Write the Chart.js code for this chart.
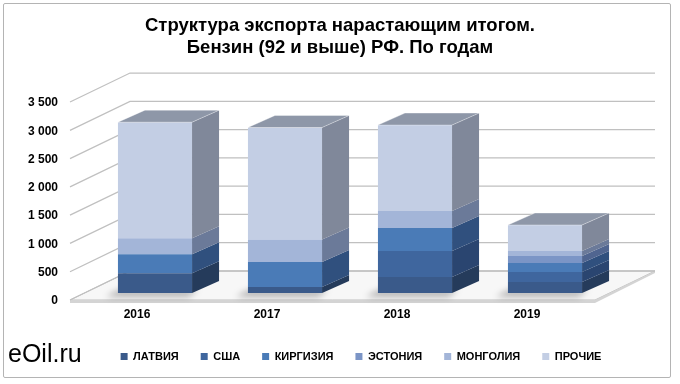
<!DOCTYPE html>
<html><head><meta charset="utf-8">
<script src="https://cdn.jsdelivr.net/npm/chart.js@4.4.0/dist/chart.umd.min.js"></script>
<style>
html,body{margin:0;padding:0;background:#fff;}
#wrap{position:relative;width:680px;height:384px;overflow:hidden;}
canvas{position:absolute;left:0;top:0;}
#frame{position:absolute;left:3px;top:3px;width:668px;height:375px;border:1px solid #b4b4b4;border-radius:2px;box-sizing:border-box;pointer-events:none;}
#brand{position:absolute;left:8px;top:338px;font:25px "Liberation Sans",Arial,sans-serif;color:#000;line-height:30px;}
</style></head><body>
<div id="wrap"><canvas id="c" width="680" height="384"></canvas><div id="frame"></div><div id="brand">eOil.ru</div></div>
<script>
const years = ['2016', '2017', '2018', '2019'];
const latvia   = [350, 106, 283, 194];
const usa      = [0, 0, 460, 177];
const kyrgyz   = [335, 440, 406, 159];
const estonia  = [0, 0, 0, 124];
const mongolia = [285, 400, 300, 88];
const other    = [2050, 1980, 1520, 460];
const seriesNames = ['ЛАТВИЯ', 'США', 'КИРГИЗИЯ', 'ЭСТОНИЯ', 'МОНГОЛИЯ', 'ПРОЧИЕ'];
const seriesValues = [latvia, usa, kyrgyz, estonia, mongolia, other];
const titleLines = ['Структура экспорта нарастающим итогом.', 'Бензин (92 и выше) РФ. По годам'];
const yMax = 3500, yStep = 500;

const frontColors = ['#3a5a8a', '#3f669e', '#4a7bb7', '#7b95c6', '#a3b5d8', '#c3cee4'];
const sideColors  = ['#253b5b', '#2a4570', '#30507e', '#506590', '#6b7a99', '#80889a'];
const topColors   = ['#2f4a72', '#365886', '#3e6598', '#6078a8', '#7d8ca8', '#8e97a8'];

const DX = 27, DY = 12;      // bar depth
const WDX = 60, WDY = 29;    // wall depth
const fmt = v => String(v).replace(/\B(?=(\d{3})+(?!\d))/g, ' ');
const FONT = '"Liberation Sans", Arial, sans-serif';

const scene = {
  id: 'scene',
  afterLayout(chart) {
    // shift legend to sit under the plot like the original
    if (chart.legend) { chart.legend.left += 21; chart.legend.right += 21; }
  },
  beforeDatasetsDraw(chart) {
    const {ctx, chartArea: a, scales: {y}} = chart;
    const fl = a.left - 20, fr = a.right - 65;
    const yl = v => y.getPixelForValue(v) + 7;
    const y0 = yl(0);
    ctx.save();
    // floor
    ctx.beginPath();
    ctx.moveTo(fl, y0); ctx.lineTo(fr, y0); ctx.lineTo(fr + WDX, y0 - WDY); ctx.lineTo(fl + WDX, y0 - WDY);
    ctx.closePath();
    ctx.fillStyle = '#f7f7f7'; ctx.fill();
    ctx.strokeStyle = '#bfbfbf'; ctx.lineWidth = 1; ctx.stroke();
    ctx.fillStyle = '#d4d4d4';
    ctx.beginPath();
    ctx.moveTo(fl, y0); ctx.lineTo(fr, y0); ctx.lineTo(fr + WDX, y0 - WDY); ctx.lineTo(fr + WDX, y0 - WDY + 2); ctx.lineTo(fr, y0 + 3); ctx.lineTo(fl, y0 + 3);
    ctx.closePath(); ctx.fill();
    // gridlines on side wall and back wall
    ctx.strokeStyle = '#c0c0c0'; ctx.lineWidth = 1.3;
    y.ticks.forEach(t => {
      const p = yl(t.value);
      ctx.beginPath();
      ctx.moveTo(fl, p); ctx.lineTo(fl + WDX, p - WDY); ctx.lineTo(fr + WDX, p - WDY);
      ctx.stroke();
    });
    // soft shadows under bars
    const meta0 = chart.getDatasetMeta(0);
    ctx.filter = 'blur(3px)';
    ctx.fillStyle = 'rgba(0,0,0,0.28)';
    meta0.data.forEach(bar => {
      const p = bar.getProps(['x', 'base', 'width'], true);
      const l = p.x - p.width / 2, r = p.x + p.width / 2;
      ctx.beginPath();
      ctx.moveTo(l - 12, p.base + 4); ctx.lineTo(r - 4, p.base + 4); ctx.lineTo(r + 6, p.base - 3); ctx.lineTo(l, p.base - 3);
      ctx.closePath(); ctx.fill();
    });
    ctx.restore();
  },
  afterDatasetsDraw(chart) {
    const {ctx} = chart;
    ctx.save();
    const topIdx = years.map((_, i) => {
      let k = -1;
      seriesValues.forEach((s, d) => { if (s[i] > 0) k = d; });
      return k;
    });
    chart.data.datasets.forEach((ds, d) => {
      const meta = chart.getDatasetMeta(d);
      meta.data.forEach((bar, i) => {
        const p = bar.getProps(['x', 'y', 'base', 'width'], true);
        if (Math.abs(p.base - p.y) < 0.3) return;
        const l = p.x - p.width / 2, r = p.x + p.width / 2;
        ctx.fillStyle = sideColors[d];
        ctx.beginPath();
        ctx.moveTo(r, p.y); ctx.lineTo(r + DX, p.y - DY); ctx.lineTo(r + DX, p.base - DY); ctx.lineTo(r, p.base);
        ctx.closePath(); ctx.fill();
        if (topIdx[i] === d) {
          ctx.fillStyle = topColors[d];
          ctx.beginPath();
          ctx.moveTo(l, p.y); ctx.lineTo(l + DX, p.y - DY); ctx.lineTo(r + DX, p.y - DY); ctx.lineTo(r, p.y);
          ctx.closePath(); ctx.fill();
          ctx.strokeStyle = 'rgba(255,255,255,0.35)'; ctx.lineWidth = 1;
          ctx.stroke();
        }
      });
    });
    ctx.restore();
  }
};

const PAD = {top: 3, left: 20, right: 20, bottom: 12};
const PLOT_BOTTOM = 293;

new Chart(document.getElementById('c'), {
  type: 'bar',
  data: {
    datasets: seriesNames.map((name, d) => ({
      label: name,
      data: seriesValues[d].map((v, i) => ({x: i, y: v})),
      backgroundColor: frontColors[d],
      borderWidth: 0,
      barPercentage: 0.57,
      categoryPercentage: 1
    }))
  },
  options: {
    responsive: false,
    animation: false,
    devicePixelRatio: 1,
    layout: {padding: PAD},
    plugins: {
      tooltip: {enabled: false},
      title: {
        display: true,
        text: titleLines,
        color: '#000',
        font: {family: FONT, size: 18.5, weight: 'bold', lineHeight: 1.19},
        padding: {top: 12, bottom: 36}
      },
      legend: {
        position: 'bottom',
        labels: {
          color: '#000',
          font: {family: FONT, size: 11, weight: 'bold'},
          boxWidth: 7, boxHeight: 7,
          padding: 22
        }
      }
    },
    scales: {
      x: {
        type: 'linear',
        offset: false,
        stacked: true,
        min: -0.5,
        max: -0.5 + 570 / 130,
        grid: {display: false, drawTicks: false},
        border: {display: false},
        afterBuildTicks: s => { s.ticks = years.map((_, i) => ({value: i})); },
        afterFit: s => {
          const lh = s.chart.legend ? s.chart.legend.height : 0;
          s.height = Math.max(10, 384 - PAD.bottom - lh - PLOT_BOTTOM);
        },
        ticks: {
          autoSkip: false,
          maxRotation: 0,
          callback: v => years[v],
          color: '#000',
          font: {family: FONT, size: 12, weight: 'bold'},
          labelOffset: -18,
          padding: 14
        }
      },
      y: {
        stacked: true,
        min: 0, max: yMax,
        grid: {display: false, drawTicks: false},
        border: {display: false},
        afterFit: s => { s.width = 70; },
        ticks: {
          stepSize: yStep,
          callback: v => fmt(v),
          color: '#000',
          font: {family: FONT, size: 12, weight: 'bold'},
          labelOffset: 8,
          padding: 32
        }
      }
    }
  },
  plugins: [scene]
});
</script>
</body></html>
